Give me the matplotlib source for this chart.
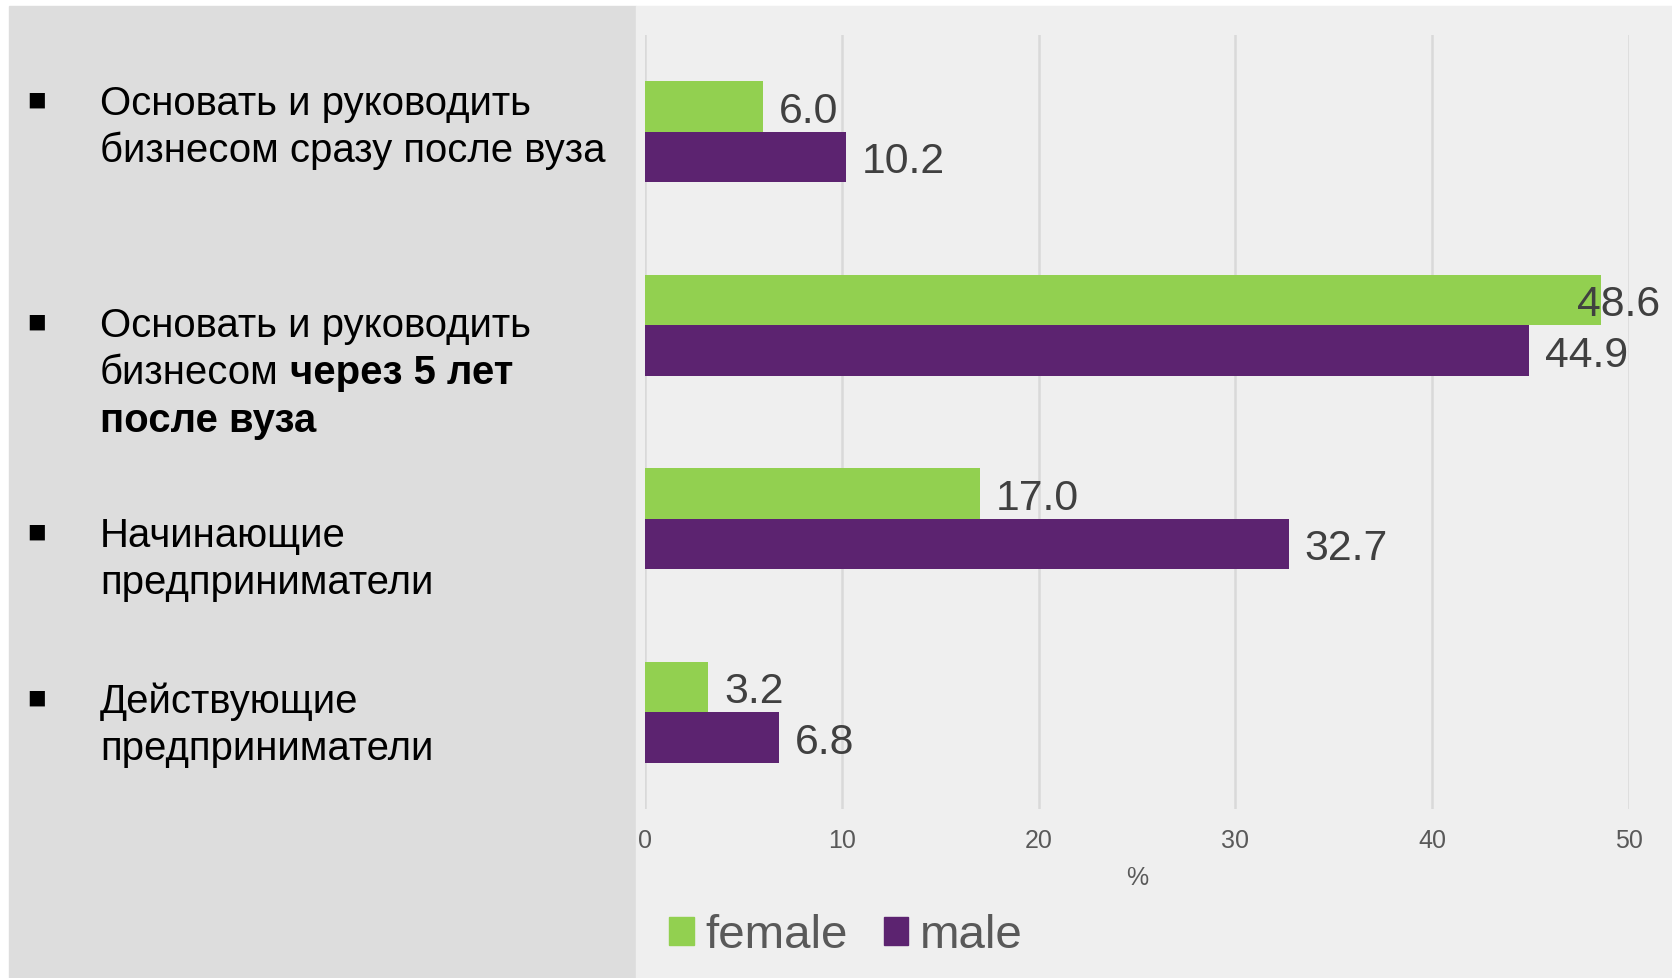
import matplotlib
matplotlib.use("Agg")
import matplotlib.pyplot as plt
from matplotlib.patches import Rectangle, Patch

plt.rcParams['font.family'] = ['Liberation Sans', 'DejaVu Sans']

# data
categories = [
    "Основать и руководить\nбизнесом сразу после вуза",
    "Основать и руководить\nбизнесом через 5 лет\nпосле вуза",
    "Начинающие\nпредприниматели",
    "Действующие\nпредприниматели",
]
# bold from this word to the end of the label
bold_from = [None, "через", None, None]
series_names = ["female", "male"]
female = [6.0, 48.6, 17.0, 3.2]
male = [10.2, 44.9, 32.7, 6.8]
xticks = [0, 10, 20, 30, 40, 50]
xlabel = "%"

GREEN = "#92d050"
PURPLE = "#5c2370"

W, H = 1672, 979
fig = plt.figure(figsize=(W / 100, H / 100), dpi=100, facecolor="white")

def fx(px):
    return px / W

def fy(py):
    return 1 - py / H

# background panels
fig.patches.append(Rectangle((fx(9), 0), fx(636 - 9), 1 - 7 / H,
                             transform=fig.transFigure, color="#dddddd", zorder=-10))
fig.patches.append(Rectangle((fx(636), 0), fx(W - 636), 1 - 7 / H,
                             transform=fig.transFigure, color="#efefef", zorder=-10))

ax = fig.add_axes([fx(645), fy(810), fx(1629 - 645), (810 - 36) / H])
ax.set_facecolor("none")

pos = list(range(len(categories)))
bh = 0.26
yf = [p - bh / 2 for p in pos]
ym = [p + bh / 2 for p in pos]
ax.barh(yf, female, height=bh, color=GREEN, label=series_names[0], zorder=3)
ax.barh(ym, male, height=bh, color=PURPLE, label=series_names[1], zorder=3)

ax.set_xlim(0, 50)
ax.set_ylim(len(categories) - 0.5, -0.5)
ax.set_xticks(xticks)
ax.set_yticks([])
ax.grid(axis="x", color="#d9d9d9", linewidth=1.8, zorder=0)
for s in ax.spines.values():
    s.set_visible(False)
ax.tick_params(axis="x", length=0, pad=14, labelsize=18, labelcolor="#595959")
ax.set_xlabel(xlabel, fontsize=18, color="#595959", labelpad=9)

# value labels
val_texts = []
for ys, vals in ((yf, female), (ym, male)):
    for y, v in zip(ys, vals):
        t = ax.annotate(f"{v:.1f}", xy=(v, y), xytext=(11.5, -11.0),
                        textcoords="offset points", ha="left", va="baseline",
                        fontsize=30.8, color="#404040", zorder=5)
        val_texts.append(t)

# category labels on the left panel
first_baselines = [115, 337, 547, 713]
step = 47.5
fs = 28.9
for cat, bw, b0 in zip(categories, bold_from, first_baselines):
    fig.text(fx(37), fy(b0 - 15), "▪", fontsize=22, color="black",
             ha="center", va="center", family="DejaVu Sans")
    bidx = cat.find(bw) if bw else len(cat)
    start = 0
    for k, line in enumerate(cat.split("\n")):
        yy = fy(b0 + k * step)
        cut = min(max(bidx - start, 0), len(line))
        reg, bold = line[:cut].rstrip(), line[cut:]
        start += len(line) + 1
        if not reg:
            fig.text(fx(100), yy, bold, fontsize=fs, fontweight="bold",
                     color="black", va="baseline")
            continue
        t = fig.text(fx(100), yy, reg, fontsize=fs, color="black", va="baseline")
        if bold:
            fig.add_artist(plt.Annotation(
                bold, xy=(1, 0), xycoords=t, xytext=(8.0, 0),
                textcoords="offset points", va="bottom", ha="left",
                fontsize=fs, fontweight="bold", color="black"))

# legend
handles = [Patch(color=GREEN), Patch(color=PURPLE)]
fig.legend(handles, series_names, loc="center left",
           bbox_to_anchor=(fx(669), fy(936.5)), ncol=2, frameon=False,
           fontsize=34.2, labelcolor="#595959", handlelength=0.52,
           handleheight=0.52, handletextpad=0.24, columnspacing=0.76,
           borderpad=0, borderaxespad=0)

# keep value labels inside the figure
fig.canvas.draw()
r = fig.canvas.get_renderer()
for t in val_texts:
    bb = t.get_window_extent(r)
    if bb.x1 > W - 12:
        dx = (bb.x1 - (W - 12)) * 72 / 100
        x0, y0 = t.xyann
        t.xyann = (x0 - dx, y0)

fig.savefig("out.png", dpi=100, facecolor=fig.get_facecolor())
